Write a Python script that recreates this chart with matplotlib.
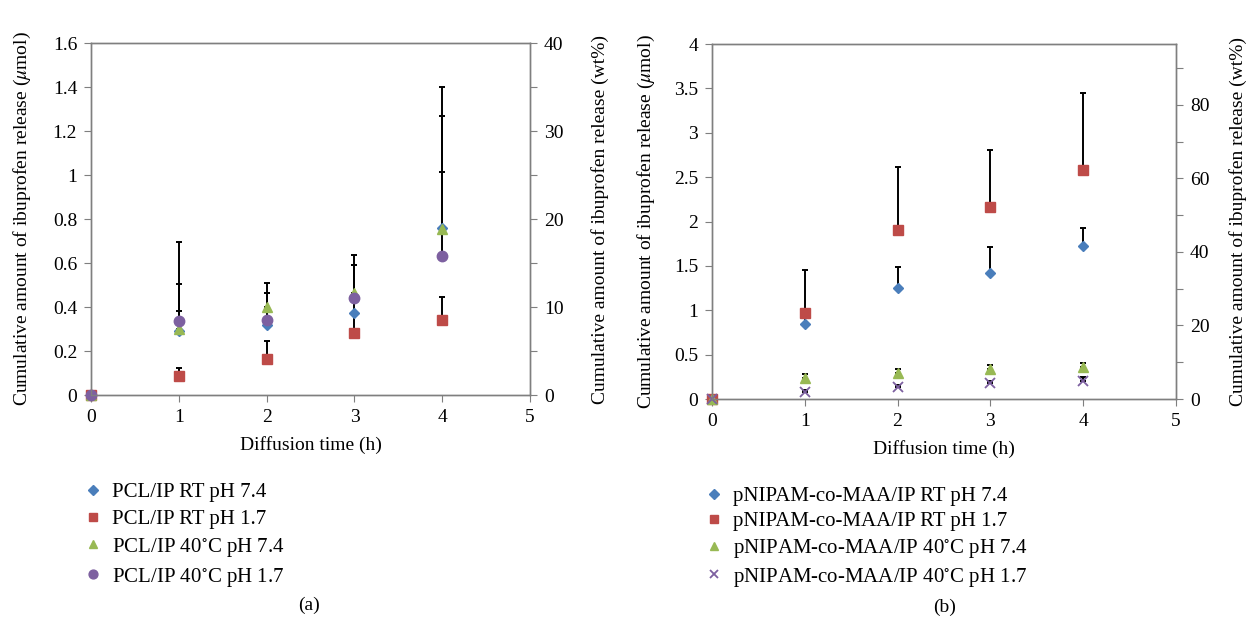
import matplotlib
matplotlib.use("Agg")
import matplotlib.pyplot as plt
import numpy as np

plt.rcParams['font.family'] = ['Liberation Serif', 'DejaVu Serif']
plt.rcParams['mathtext.fontset'] = 'stix'

time_h = [0, 1, 2, 3, 4]

# Panel (a): PCL/IP, cumulative release (umol) and upper error bar tops
a_labels = ["PCL/IP RT pH 7.4", "PCL/IP RT pH 1.7",
            "PCL/IP 40$^{\\circ}$C pH 7.4", "PCL/IP 40$^{\\circ}$C pH 1.7"]
a_rt74 = [0, 0.29, 0.32, 0.375, 0.76]
a_rt17 = [0, 0.085, 0.165, 0.28, 0.34]
a_40_74 = [0, 0.30, 0.40, 0.465, 0.755]
a_40_17 = [0, 0.335, 0.34, 0.44, 0.63]
a_rt74_top = [0, 0.38, 0.464, 0.591, 1.268]
a_rt17_top = [0, 0.123, 0.247, 0.375, 0.447]
a_40_74_top = [0, 0.505, 0.509, 0.636, 1.40]
a_40_17_top = [0, 0.695, 0.464, 0.591, 1.015]

# Panel (b): pNIPAM-co-MAA/IP
b_labels = ["pNIPAM-co-MAA/IP RT pH 7.4", "pNIPAM-co-MAA/IP RT pH 1.7",
            "pNIPAM-co-MAA/IP 40$^{\\circ}$C pH 7.4", "pNIPAM-co-MAA/IP 40$^{\\circ}$C pH 1.7"]
b_rt74 = [0, 0.845, 1.247, 1.416, 1.724]
b_rt17 = [0, 0.966, 1.90, 2.163, 2.58]
b_40_74 = [0, 0.233, 0.297, 0.338, 0.364]
b_40_17 = [0, 0.083, 0.139, 0.177, 0.203]
b_rt74_top = [0, 0.95, 1.487, 1.716, 1.927]
b_rt17_top = [0, 1.453, 2.61, 2.806, 3.45]
b_40_74_top = [0, 0.28, 0.34, 0.38, 0.41]
b_40_17_top = [0, 0.10, 0.16, 0.20, 0.25]

colors = ['#4A7EBB', '#BE4B48', '#98B954', '#7D60A0']
spine_c = '#7f7f7f'
fs = 14
lfs = 15

fig = plt.figure(figsize=(12.49, 6.26), dpi=100)
axa = fig.add_axes([0.0729, 0.369, 0.3515, 0.5623])
axb = fig.add_axes([0.570, 0.3626, 0.3715, 0.567])


def draw(ax, series, tops, labels, markers, msizes, ymax, yticks, right_max, right_ticks, right_labels,
         lpad, rpad):
    handles = []
    for vals, top in zip(series, tops):
        v = np.array(vals)
        err = np.clip(np.array(top) - v, 0, None)
        ax.errorbar(time_h, v, yerr=[np.zeros_like(v), err], fmt='none',
                    ecolor='black', elinewidth=1.4, capsize=2.5, capthick=1.4, zorder=2)
    for vals, lab, mk, ms, c in zip(series, labels, markers, msizes, colors):
        if mk == 'x':
            h, = ax.plot(time_h, vals, linestyle='none', marker='x', color=c,
                         markersize=ms, markeredgewidth=1.3, label=lab, zorder=3, clip_on=False)
        else:
            h, = ax.plot(time_h, vals, linestyle='none', marker=mk, color=c,
                         markeredgecolor=c, markersize=ms, label=lab, zorder=3, clip_on=False)
        handles.append(h)
    ax.set_xlim(0, 5)
    ax.set_ylim(0, ymax)
    ax.set_xticks(range(6))
    ax.set_yticks(yticks)
    ax.set_yticklabels([('%g' % t) for t in yticks], fontsize=fs)
    ax.set_xticklabels([str(i) for i in range(6)], fontsize=fs)
    ax.tick_params(direction='out', length=5, color=spine_c, pad=5)
    for s in ax.spines.values():
        s.set_color(spine_c)
        s.set_linewidth(1.0)
    ax.set_xlabel('Diffusion time (h)', fontsize=fs, labelpad=7)
    ax.set_ylabel('Cumulative amount of ibuprofen release ($\\mu$mol)', fontsize=fs, labelpad=lpad)
    r = ax.twinx()
    r.set_ylim(0, right_max)
    r.set_yticks(right_ticks)
    r.set_yticklabels(right_labels, fontsize=fs)
    r.tick_params(direction='out', length=5, color=spine_c, pad=5)
    for s in r.spines.values():
        s.set_color(spine_c)
        s.set_linewidth(1.0)
    r.set_ylabel('Cumulative amount of ibuprofen release (wt%)', fontsize=fs, labelpad=rpad)
    return handles


ha = draw(axa, [a_rt74, a_rt17, a_40_74, a_40_17],
          [a_rt74_top, a_rt17_top, a_40_74_top, a_40_17_top],
          a_labels, ['D', 's', '^', 'o'], [5.5, 7, 7, 7.5],
          1.6, [0, 0.2, 0.4, 0.6, 0.8, 1.0, 1.2, 1.4, 1.6],
          40, list(range(0, 41, 5)), ['0', '', '10', '', '20', '', '30', '', '40'], 14, 20)

hb = draw(axb, [b_rt74, b_rt17, b_40_74, b_40_17],
          [b_rt74_top, b_rt17_top, b_40_74_top, b_40_17_top],
          b_labels, ['D', 's', '^', 'x'], [5.5, 7, 7, 7],
          4, [0, 0.5, 1, 1.5, 2, 2.5, 3, 3.5, 4],
          96.5, list(range(0, 91, 10)), ['0', '', '20', '', '40', '', '60', '', '80', ''], 12, 14)

fig.legend(handles=ha, labels=a_labels, loc='upper left', bbox_to_anchor=(0.062, 0.242),
           frameon=False, fontsize=lfs, handlelength=0.7, handletextpad=0.55,
           labelspacing=0.33, borderaxespad=0, markerscale=0.85)
fig.legend(handles=hb, labels=b_labels, loc='upper left', bbox_to_anchor=(0.559, 0.236),
           frameon=False, fontsize=lfs, handlelength=0.7, handletextpad=0.55,
           labelspacing=0.27, borderaxespad=0, markerscale=0.85)

fig.text(309 / 1249, 1 - 605 / 626, '(a)', fontsize=fs, ha='center', va='center')
fig.text(945 / 1249, 1 - 607 / 626, '(b)', fontsize=fs, ha='center', va='center')

fig.savefig('out.png', dpi=100)
